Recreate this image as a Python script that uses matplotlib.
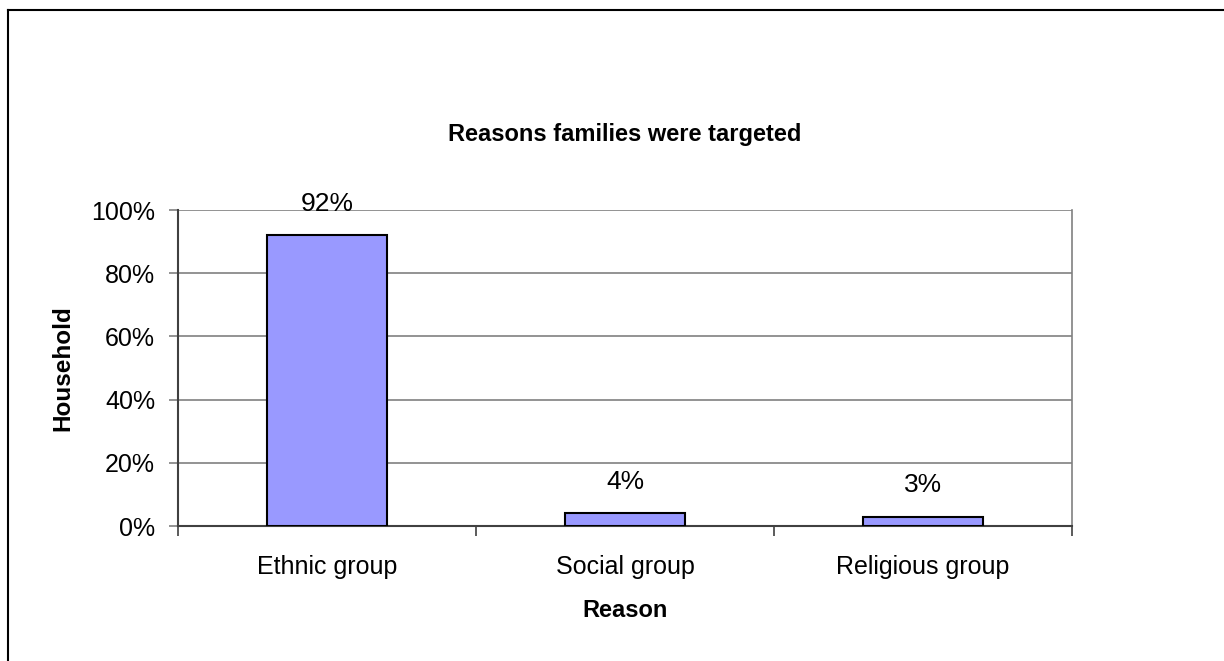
import matplotlib.pyplot as plt
from matplotlib.lines import Line2D

plt.rcParams['font.family'] = ['Liberation Sans', 'DejaVu Sans']

# Datos del grafico
categorias = ["Ethnic group", "Social group", "Religious group"]
valores = [92, 4, 3]
etiquetas_y = ["0%", "20%", "40%", "60%", "80%", "100%"]

fig = plt.figure(figsize=(12.24, 6.61), dpi=100)
ax = fig.add_axes([178 / 1224, 1 - 526 / 661, 894 / 1224, 316 / 661])

pos = [i + 0.5 for i in range(len(categorias))]
ax.bar(pos, valores, width=0.405, color="#9999FF", edgecolor="black", linewidth=1.5, zorder=3)

# Etiquetas de datos
for x, v in zip(pos, valores):
    ax.annotate(f"{v}%", (x, v), xytext=(0, 14), textcoords="offset points",
                ha="center", va="bottom", fontsize=19)

ax.set_xlim(0, len(categorias))
ax.set_ylim(0, 100)
ax.set_yticks(range(0, 101, 20))
ax.set_yticklabels(etiquetas_y, fontsize=18)
ax.yaxis.grid(True, color="#808080", linewidth=1.2, zorder=0)

# Marcas entre categorias y etiquetas al centro
ax.set_xticks(range(len(categorias) + 1))
ax.set_xticklabels([""] * (len(categorias) + 1))
ax.set_xticks(pos, minor=True)
ax.set_xticklabels(categorias, minor=True, fontsize=18)
ax.tick_params(axis="x", which="minor", length=0, pad=21)
ax.tick_params(axis="x", which="major", length=7, width=1.2, color="#404040")
ax.tick_params(axis="y", length=6.5, width=1.2, color="#808080", pad=10)

for s in ["left", "bottom"]:
    ax.spines[s].set_color("#404040")
    ax.spines[s].set_linewidth(1.5)
ax.spines["right"].set_color("#808080")
ax.spines["right"].set_linewidth(1.2)
ax.spines["top"].set_visible(False)

ax.set_xlabel("Reason", fontsize=17, fontweight="bold", labelpad=14)
ax.set_ylabel("Household", fontsize=17.5, fontweight="bold", labelpad=12)
fig.text(0.5 * (178 + 1072) / 1224, 1 - 134 / 661, "Reasons families were targeted",
         ha="center", va="center", fontsize=17, fontweight="bold")

# Marco exterior
fig.add_artist(Line2D([8 / 1224, 1], [1 - 10 / 661, 1 - 10 / 661], color="black", linewidth=1.5))
fig.add_artist(Line2D([8 / 1224, 8 / 1224], [0, 1 - 10 / 661], color="black", linewidth=1.5))

fig.savefig("out.png", dpi=100)
